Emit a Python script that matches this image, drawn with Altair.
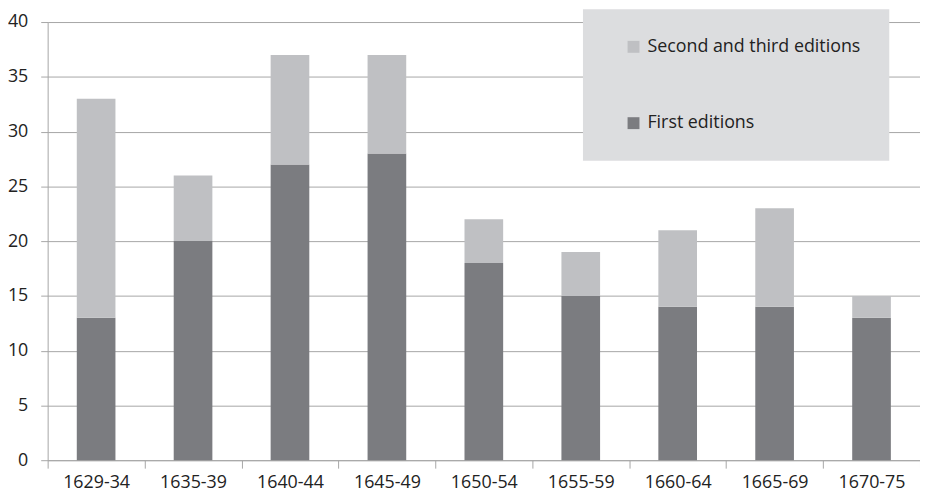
import altair as alt
import pandas as pd

periods = ["1629-34", "1635-39", "1640-44", "1645-49", "1650-54",
           "1655-59", "1660-64", "1665-69", "1670-75"]
first_editions = [13, 20, 27, 28, 18, 15, 14, 14, 13]
later_editions = [20, 6, 10, 9, 4, 4, 7, 9, 2]
series_names = ["Second and third editions", "First editions"]
series_colors = ["#bfc0c3", "#7b7c80"]
y_ticks = [0, 5, 10, 15, 20, 25, 30, 35, 40]

rows = []
for p, f, s in zip(periods, first_editions, later_editions):
    rows.append({"period": p, "series": "First editions", "value": f, "rank": 0})
    rows.append({"period": p, "series": "Second and third editions", "value": s, "rank": 1})
df = pd.DataFrame(rows)

FONT = "Open Sans"

chart = alt.Chart(df).mark_bar(size=39).encode(
    x=alt.X("period:N", sort=periods, title=None,
            scale=alt.Scale(paddingInner=0, paddingOuter=0),
            axis=alt.Axis(labelAngle=0, tickBand="extent", tickSize=8,
                          labelPadding=6, grid=False, domainColor="#a6a6a6",
                          tickColor="#a6a6a6", labelFontSize=18,
                          labelColor="#222222", labelFont=FONT)),
    y=alt.Y("value:Q", stack="zero", title=None,
            scale=alt.Scale(domain=[0, 40], nice=False),
            axis=alt.Axis(values=y_ticks, tickSize=7, labelPadding=13,
                          domainColor="#a6a6a6", tickColor="#a6a6a6",
                          gridColor="#a6a6a6", labelFontSize=18,
                          labelColor="#222222", labelFont=FONT)),
    color=alt.Color("series:N",
                    scale=alt.Scale(domain=series_names, range=series_colors),
                    legend=alt.Legend(title=None, orient="none", legendX=540, legendY=-13,
                                      fillColor="#dcdddf", padding=29, symbolOffset=13,
                                      symbolType="square", symbolSize=144,
                                      symbolStrokeWidth=0, rowPadding=59,
                                      labelFontSize=18, labelFont=FONT, labelLimit=400,
                                      labelColor="#222222", labelOffset=5)),
    order=alt.Order("rank:Q"),
).properties(
    width=880, height=442, autosize="none",
    padding={"left": 40, "top": 12, "right": 0, "bottom": 40},
).configure_view(stroke=None)

chart.save("out.html", embed_options={"renderer": "svg", "actions": False})
